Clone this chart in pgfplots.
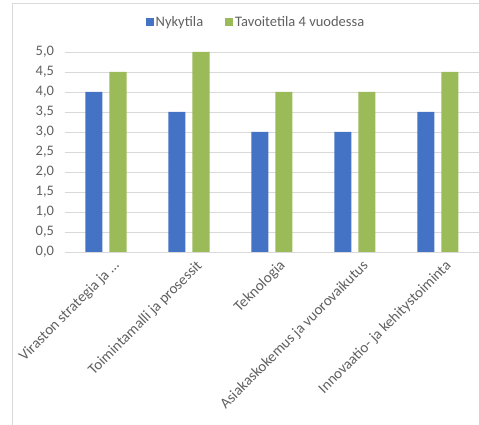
\documentclass[border=0pt]{standalone}
\usepackage{fontspec}
\setmainfont{Carlito}
\usepackage{pgfplots}
\pgfplotsset{compat=1.18}
\definecolor{cblue}{HTML}{4472C4}
\definecolor{cgreen}{HTML}{9BBB59}
\definecolor{ctext}{HTML}{606060}
\definecolor{cgrid}{HTML}{D9D9D9}
\begin{document}
\begin{tikzpicture}
\useasboundingbox (0,0) rectangle (479pt,425pt);
\draw[cgrid, line width=0.8pt] (12pt,0) -- (12pt,422pt) -- (479pt,422pt);
\begin{axis}[
  at={(64.5pt,173pt)}, anchor=south west,
  scale only axis, width=415pt, height=200pt,
  ybar=7pt, bar width=17pt,
  ymin=0, ymax=5, xmin=-0.5, xmax=4.5,
  xtick=data,
  xticklabels={{Viraston strategia ja …}, Toimintamalli ja prosessit, Teknologia, Asiakaskokemus ja vuorovaikutus, Innovaatio- ja kehitystoiminta},
  ytick={0,0.5,...,5},
  yticklabel style={/pgf/number format/fixed, /pgf/number format/fixed zerofill, /pgf/number format/precision=1, /pgf/number format/use comma, /pgf/number format/assume math mode=true},
  axis x line=bottom, axis y line=left,
  axis line style={-},
  x axis line style={draw=cgrid, line width=0.8pt},
  y axis line style={draw=none},
  major tick length=0,
  ymajorgrids, grid style={cgrid, line width=0.8pt},
  tick label style={font=\fontsize{14.5}{17}\selectfont, text=ctext},
  x tick label style={font=\fontsize{15}{18}\selectfont, rotate=45, anchor=north east, xshift=3pt, yshift=-6pt},
  y tick label style={xshift=-7pt},
  legend style={at={(0.4614,1.15)}, anchor=center, draw=none, legend columns=2,
    font=\fontsize{14.5}{17}\selectfont, text=ctext,
    /tikz/every even column/.append style={column sep=20pt}},
  legend image code/.code={\fill[#1] (0pt,-4pt) rectangle (8pt,4pt);},
  enlarge x limits=false,
]
\addplot[fill=cblue, draw=none] coordinates {(0,4.0) (1,3.5) (2,3.0) (3,3.0) (4,3.5)};
\addplot[fill=cgreen, draw=none] coordinates {(0,4.5) (1,5.0) (2,4.0) (3,4.0) (4,4.5)};
\legend{Nykytila, Tavoitetila 4 vuodessa}
\end{axis}
\end{tikzpicture}
\end{document}
